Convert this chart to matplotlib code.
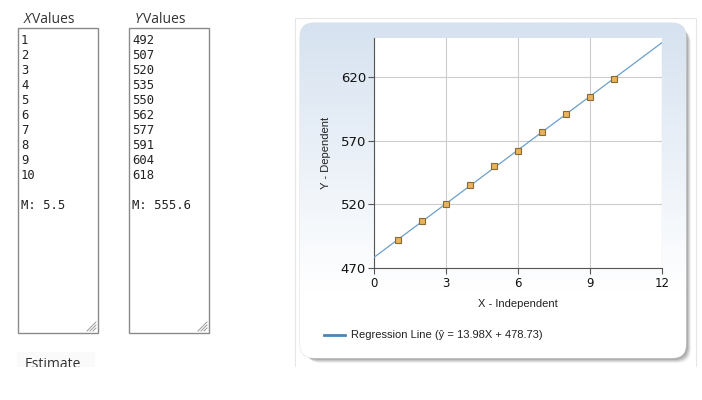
import numpy as np
import matplotlib
matplotlib.use("Agg")
import matplotlib.pyplot as plt
from matplotlib.patches import Rectangle, FancyBboxPatch

# data
x_vals = [1, 2, 3, 4, 5, 6, 7, 8, 9, 10]
y_vals = [492, 507, 520, 535, 550, 562, 577, 591, 604, 618]
x_ticks = [0, 3, 6, 9, 12]
y_ticks = [470, 520, 570, 620]
legend_label = "Regression Line (\u0177 = 13.98X + 478.73)"

slope, intercept = np.polyfit(x_vals, y_vals, 1)

W, H = 702, 400
fig = plt.figure(figsize=(W / 100, H / 100), dpi=100)
fig.patch.set_facecolor("white")

# background layer in pixel coordinates
bg = fig.add_axes([0, 0, 1, 1])
bg.set_xlim(0, W)
bg.set_ylim(H, 0)
bg.axis("off")

mono = "DejaVu Sans Mono"

# the two input boxes
for left, head, vals in [(18, "X", x_vals), (129, "Y", y_vals)]:
    bg.add_patch(Rectangle((left, 28), 80, 305, facecolor="white",
                           edgecolor="#8a8a8a", lw=1))
    bg.text(left + 6, 23, head, fontsize=10, style="italic",
            family="Open Sans", color="#333333", va="baseline")
    bg.text(left + 14, 23, "Values", fontsize=10, family="Open Sans",
            color="#333333", va="baseline")
    for i, v in enumerate(vals):
        bg.text(left + 3, 44 + i * 15, str(v), fontsize=8.8, family=mono,
                color="#222222", va="baseline")
    m = np.mean(vals)
    bg.text(left + 3, 209, "M: " + ("%g" % m), fontsize=8.8, family=mono,
            color="#222222", va="baseline")
    # resize grip
    for d in (3, 6, 9):
        bg.plot([left + 78 - d, left + 78], [331, 331 - d], color="#999999", lw=0.7)

# clipped "Estimate" button
bg.add_patch(Rectangle((17, 352), 78, 16, facecolor="#fafafa", edgecolor="none"))
bg.text(25, 368, "Estimate", fontsize=10, family="Open Sans", color="#333333",
        va="baseline")
bg.add_patch(Rectangle((0, 367), W, 33, facecolor="white", edgecolor="none", zorder=5))

# chart panel: outer frame, shadow, rounded gradient card
bg.add_patch(Rectangle((295, 18), 401, 350, facecolor="white",
                       edgecolor="#e6e6e6", lw=0.8))
for k, a in [(6, 0.10), (5, 0.15), (4, 0.2), (3, 0.25)]:
    bg.add_patch(FancyBboxPatch((301 + k, 24 + k), 386 - 2, 335 - 2,
                                boxstyle="round,pad=0,rounding_size=14",
                                facecolor="#6e6e6e", edgecolor="none", alpha=a))
card = FancyBboxPatch((300, 23), 386, 335,
                      boxstyle="round,pad=0,rounding_size=14",
                      facecolor="white", edgecolor="#d8d8d8", lw=0.6)
bg.add_patch(card)
t = np.clip(np.linspace(0, 1, 256) / 0.8, 0, 1)[:, None]
top = np.array([214, 226, 240]) / 255
bottom = np.array([1.0, 1.0, 1.0])
img = (top * (1 - t) + bottom * t).reshape(256, 1, 3)
im = bg.imshow(img, extent=(300, 686, 358, 23), aspect="auto", zorder=2)
im.set_clip_path(card)

# legend box
bg.add_patch(Rectangle((313, 323), 242, 25, facecolor="white", edgecolor="none",
                       alpha=0.85, zorder=3))
bg.plot([324, 345], [335, 335], color="#4a86b8", lw=2, zorder=4)
bg.text(351, 335, legend_label, fontsize=8, family="Liberation Sans",
        color="#222222", va="center", zorder=4)

# scatter plot
ax = fig.add_axes([374.3 / W, 1 - 268.3 / H, 287.4 / W, 230 / H])
ax.set_facecolor("white")
xs = np.array([0, 12])
ax.plot(xs, slope * xs + intercept, color="#6a9fce", lw=0.9, zorder=3)
ax.plot(x_vals, y_vals, "s", ms=5, mfc="#e9b35e", mec="#8a6a33", mew=0.8, zorder=4)
ax.set_xlim(0, 12)
ax.set_ylim(470, 650)
ax.set_xticks(x_ticks)
ax.set_yticks(y_ticks)
ax.grid(True, color="#cccccc", lw=0.8)
ax.set_axisbelow(True)
for s in ("top", "right"):
    ax.spines[s].set_visible(False)
for s in ("left", "bottom"):
    ax.spines[s].set_color("#555555")
    ax.spines[s].set_linewidth(0.8)
ax.axvline(12, color="#cccccc", lw=0.8, zorder=1)
ax.tick_params(length=4, width=0.8, color="#555555", labelcolor="#111111")
ax.tick_params(axis="y", labelsize=9.5, pad=2)
ax.tick_params(axis="x", labelsize=8.5, pad=2)
ax.set_xlabel("X - Independent", fontsize=8, family="Liberation Sans",
              color="#222222")
ax.set_ylabel("Y - Dependent", fontsize=8, family="Liberation Sans",
              color="#222222")
ax.xaxis.set_label_coords(0.5, -0.135)
ax.yaxis.set_label_coords(-0.15, 0.5)

fig.savefig("out.png", dpi=100)
